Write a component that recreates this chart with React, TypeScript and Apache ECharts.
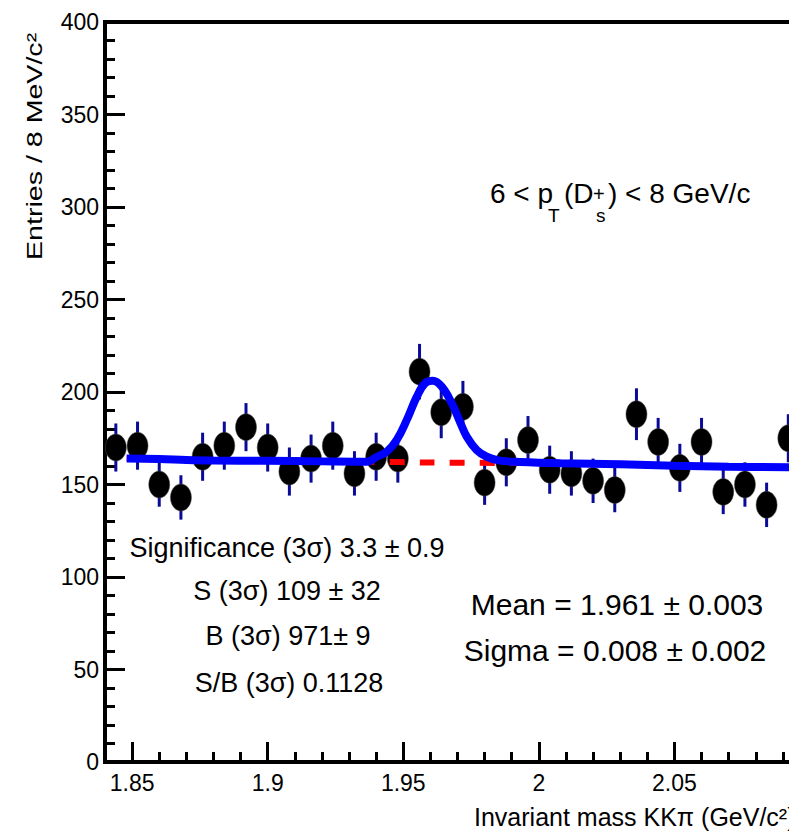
import React, { useEffect, useRef } from "react";
import * as echarts from "echarts";

// Histogram bin centres (GeV/c^2) and entries
const binCenters = [
  1.844, 1.852, 1.86, 1.868, 1.876, 1.884, 1.892, 1.9, 1.908, 1.916, 1.924,
  1.932, 1.94, 1.948, 1.956, 1.964, 1.972, 1.98, 1.988, 1.996, 2.004, 2.012,
  2.02, 2.028, 2.036, 2.044, 2.052, 2.06, 2.068, 2.076, 2.084, 2.092,
];
const entries = [
  170, 171, 150, 143, 165, 171, 181, 170, 157, 164, 171, 156, 165, 164, 211,
  189, 192, 151, 162, 174, 158, 156, 152, 147, 188, 173, 159, 173, 146, 150,
  139, 175,
];
const errors = [
  13, 13, 12, 12, 13, 13, 13, 13, 13, 13, 13, 12, 13, 13, 15, 14, 14, 12, 13,
  13, 13, 12, 12, 12, 14, 13, 13, 13, 12, 12, 12, 13,
];

// Total fit curve (signal + background)
const fitX = [
  1.848, 1.86, 1.87, 1.88, 1.9, 1.92, 1.9366, 1.9403, 1.9439, 1.9476, 1.9513,
  1.955, 1.958, 1.9609, 1.9642, 1.9679, 1.9709, 1.9734, 1.9771, 1.9808,
  1.9856, 1.993, 2.008, 2.03, 2.05, 2.07, 2.1,
];
const fitY = [
  164.0, 163.8, 163.3, 163.0, 162.8, 162.5, 162.3, 165.0, 167.7, 174.1, 184.9,
  197.5, 204.7, 206.1, 202.9, 193.9, 183.9, 175.9, 168.6, 165.0, 162.9, 162.2,
  161.5, 160.9, 160.2, 159.6, 159.2,
];

// Background-only curve (dashed red)
const bkgX = [1.848, 1.87, 1.9, 1.937, 1.96, 1.99, 2.008, 2.03, 2.05, 2.07, 2.1];
const bkgY = [164.0, 163.3, 162.8, 162.3, 161.9, 161.6, 161.4, 160.9, 160.2, 159.6, 159.2];

const xMajorTicks = [1.85, 1.9, 1.95, 2, 2.05];

const FONT = '"Liberation Sans", Arial, Helvetica, sans-serif';

function txt(
  text: string,
  x: number,
  y: number,
  size: number,
  align: string = "left",
  extra: any = {}
) {
  return {
    type: "text",
    x,
    y,
    silent: true,
    ...extra,
    style: {
      text,
      fontSize: size,
      fontFamily: FONT,
      fill: "#000",
      align,
      textAlign: align,
      verticalAlign: "middle",
      textVerticalAlign: "middle",
    },
  };
}

export default function App() {
  const ref = useRef<HTMLDivElement>(null);

  useEffect(() => {
    if (!ref.current) return;
    const chart = echarts.init(ref.current, null, { renderer: "svg" });

    const points = binCenters.map((x, i) => [x, entries[i]]);
    const errData = binCenters.map((x, i) => [x, entries[i], errors[i]]);
    const fitData = fitX.map((x, i) => [x, fitY[i]]);
    const bkgData = bkgX.map((x, i) => [x, bkgY[i]]);

    const option: any = {
      animation: false,
      backgroundColor: "#fff",
      grid: {
        left: 105,
        top: 22,
        width: 705,
        height: 740,
        show: true,
        borderColor: "#000",
        borderWidth: 4,
        backgroundColor: "transparent",
        containLabel: false,
        outerBoundsMode: "none",
      },
      xAxis: [
        {
          type: "value",
          min: 1.84,
          max: 2.1,
          position: "bottom",
          axisLine: { show: true, lineStyle: { color: "#000", width: 4 } },
          axisTick: {
            show: true,
            inside: true,
            length: 20,
            customValues: xMajorTicks,
            lineStyle: { color: "#000", width: 3 },
          },
          axisLabel: {
            show: true,
            customValues: xMajorTicks,
            formatter: (v: number) => String(+Number(v).toFixed(2)),
            fontSize: 23,
            fontFamily: FONT,
            color: "#000",
            margin: 9,
          },
          splitLine: { show: false },
        },
        {
          type: "value",
          min: 1.84,
          max: 2.1,
          interval: 0.01,
          position: "bottom",
          axisLine: { show: false },
          axisTick: {
            show: true,
            inside: true,
            length: 10,
            lineStyle: { color: "#000", width: 3 },
          },
          axisLabel: { show: false },
          splitLine: { show: false },
        },
      ],
      yAxis: {
        type: "value",
        min: 0,
        max: 400,
        interval: 50,
        axisLine: { show: true, lineStyle: { color: "#000", width: 4 } },
        axisTick: {
          show: true,
          inside: true,
          length: 20,
          lineStyle: { color: "#000", width: 3 },
        },
        minorTick: {
          show: true,
          splitNumber: 5,
          length: 10,
          lineStyle: { color: "#000", width: 3 },
        },
        axisLabel: {
          fontSize: 23,
          fontFamily: FONT,
          color: "#000",
          margin: 6,
        },
        splitLine: { show: false },
        minorSplitLine: { show: false },
      },
      series: [
        {
          type: "custom",
          xAxisIndex: 0,
          yAxisIndex: 0,
          data: errData,
          renderItem: (params: any, api: any) => {
            const x = api.value(0);
            const y = api.value(1);
            const e = api.value(2);
            const p1 = api.coord([x, y + e]);
            const p2 = api.coord([x, y - e]);
            return {
              type: "line",
              shape: { x1: p1[0], y1: p1[1], x2: p2[0], y2: p2[1] },
              style: { stroke: "#0a0a99", lineWidth: 3 },
            };
          },
          z: 2,
        },
        {
          type: "scatter",
          xAxisIndex: 0,
          data: points,
          symbol: "circle",
          symbolSize: [21, 27],
          itemStyle: {
            color: "#000",
            opacity: 1,
            borderColor: "#444",
            borderWidth: 0.5,
          },
          emphasis: { disabled: true },
          z: 3,
        },
        {
          type: "line",
          xAxisIndex: 0,
          data: bkgData,
          showSymbol: false,
          smooth: 0.3,
          lineStyle: {
            color: "#ff0000",
            width: 6,
            type: [15, 15],
            dashOffset: 7,
          },
          z: 4,
        },
        {
          type: "line",
          xAxisIndex: 0,
          data: fitData,
          showSymbol: false,
          smooth: 0.4,
          lineStyle: { color: "#0000ff", width: 8 },
          z: 5,
        },
      ],
      graphic: [
        // Y axis title (stretched along its length)
        {
          type: "text",
          x: 34,
          y: 260,
          rotation: Math.PI / 2,
          scaleX: 1.3,
          silent: true,
          style: {
            text: "Entries / 8 MeV/c²",
            fontSize: 22,
            fontFamily: FONT,
            fill: "#000",
            align: "left",
            textAlign: "left",
            verticalAlign: "middle",
            textVerticalAlign: "middle",
          },
        },
        // X axis title (runs past the right edge, as in the reference)
        txt("Invariant mass KKπ (GeV/c²)", 474, 817, 25, "left"),
        // pT range label
        txt("6 < p", 490, 193.3, 28, "left"),
        txt("T", 548, 215.5, 19, "left"),
        txt("(D", 564, 193.3, 28, "left"),
        txt("+", 593, 194, 20, "left"),
        txt("s", 596, 215.5, 19, "left"),
        txt(") < 8 GeV/c", 608, 193.3, 28, "left"),
        // Yield box
        txt("Significance (3σ) 3.3 ± 0.9", 287, 548, 27, "center"),
        txt("S (3σ) 109 ± 32", 287, 591, 27, "center"),
        txt("B (3σ) 971± 9", 288, 636, 27, "center"),
        txt("S/B (3σ) 0.1128", 289, 683, 27, "center"),
        // Fit parameters
        txt("Mean = 1.961 ± 0.003", 617, 604, 30, "center"),
        txt("Sigma = 0.008 ± 0.002", 615, 650, 30, "center"),
      ],
    };

    chart.setOption(option);
    return () => chart.dispose();
  }, []);

  return (
    <div
      ref={ref}
      style={{
        position: "fixed",
        left: 0,
        top: 0,
        width: 789,
        height: 834,
        background: "#fff",
      }}
    />
  );
}
